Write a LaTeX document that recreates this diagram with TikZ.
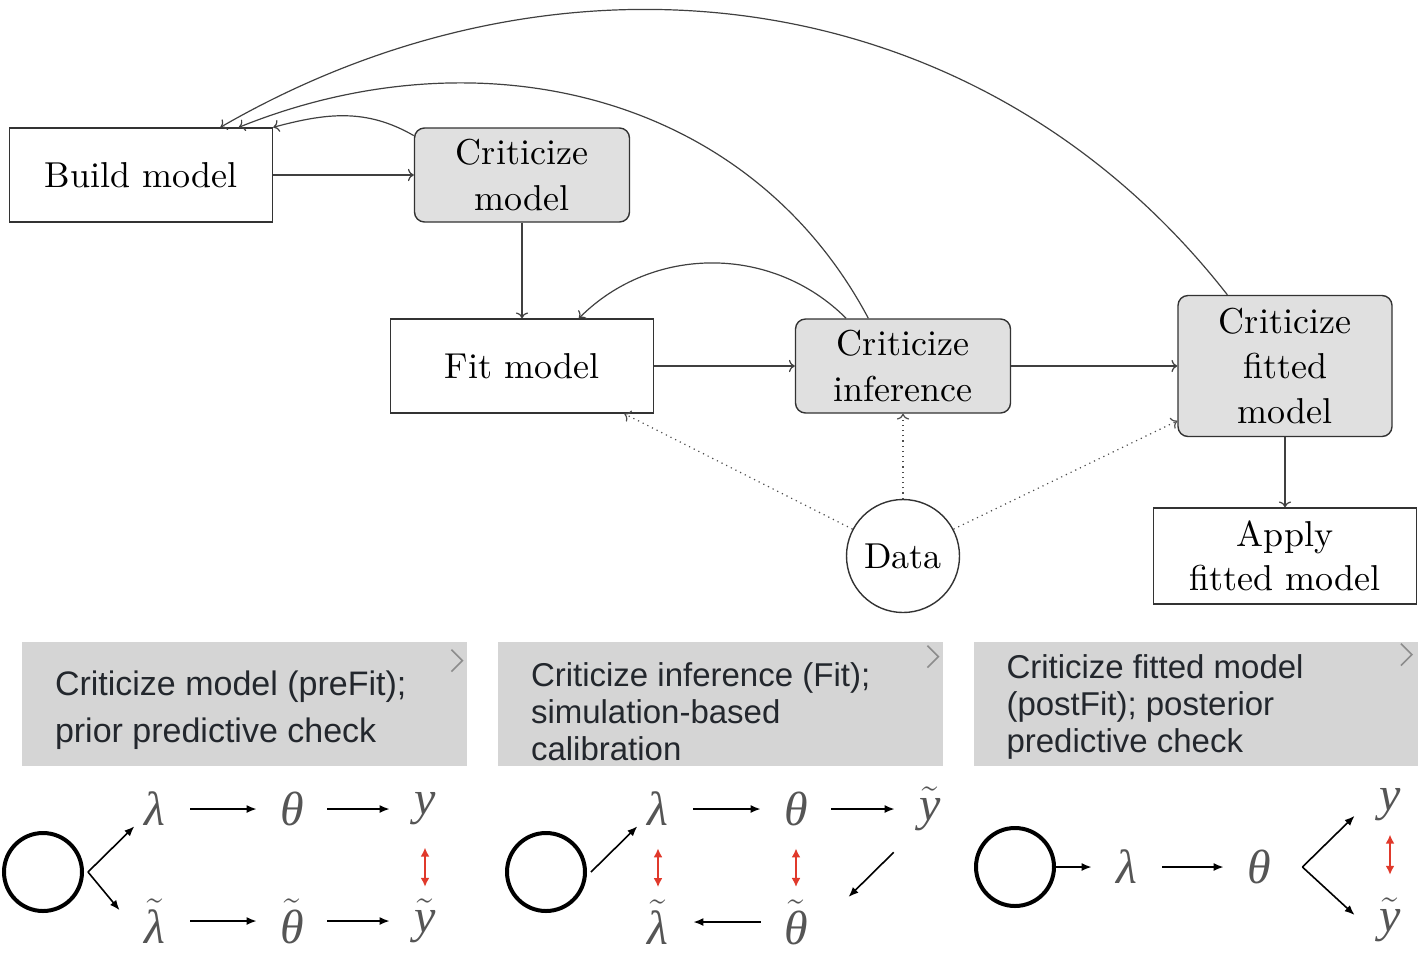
\documentclass[tikz,border=0pt]{standalone}
\usepackage{fontspec}
\newfontfamily\panelfont{Liberation Sans}
\newfontfamily\boxfont{lmroman10-regular.otf}
\newfontfamily\symfont{Liberation Serif}
\usetikzlibrary{shapes.geometric, arrows.meta, positioning, calc}
\definecolor{boxgray}{RGB}{224,224,224}
\definecolor{panelgray}{RGB}{213,213,213}
\definecolor{paneltext}{RGB}{35,39,45}
\definecolor{symgray}{RGB}{85,85,85}
\definecolor{checkred}{RGB}{224,57,43}
\newcommand{\tildesym}[1]{$\tilde{\hbox{#1}}$}

\begin{document}
\begin{tikzpicture}[
        x=0.5pt, y=0.5pt,
        box/.style={draw=black!80, line width=0.7pt, align=center, font=\boxfont\fontsize{18}{23}\selectfont, minimum width=131.5pt, minimum height=47pt},
        critbox/.style={box, rounded corners=5pt, fill=boxgray, minimum width=107.5pt},
        databox/.style={draw=black!80, line width=0.7pt, circle, font=\boxfont\fontsize{18}{23}\selectfont, minimum size=56.5pt, inner sep=0pt},
        arrow/.style={->, line width=0.6pt, draw=black!75},
        dataarrow/.style={->, dotted, line width=0.6pt, draw=black!70},
        panel/.style={fill=panelgray, minimum width=222.5pt, minimum height=62pt, inner sep=0pt},
        paneltxt/.style={align=left, text=paneltext, inner sep=0pt, anchor=west, font=\panelfont\fontsize{16.5}{18.5}\selectfont},
        chevron/.style={draw=black!45, line width=0.8pt},
        prior/.style={draw, circle, line width=2pt, minimum size=39pt},
        sym/.style={text=symgray, inner sep=0pt, minimum width=35pt, font=\symfont\itshape\fontsize{24}{28}\selectfont},
        sarrow/.style={-{Latex[length=5pt,width=4pt]}, line width=0.8pt},
        redarrow/.style={{Latex[length=4.5pt,width=4.5pt]}-{Latex[length=4.5pt,width=4.5pt]}, line width=0.9pt, draw=checkred, shorten <=11pt, shorten >=6pt}
        ]
        \useasboundingbox (0,0) rectangle (1418,-960);

        % workflow
        \node[box] (bm) at (141,-175) {Build model};
        \node[critbox] (cm) at (522,-175) {Criticize\\model};
        \node[box] (fm) at (522,-366) {Fit model};
        \node[critbox] (ci) at (903,-366) {Criticize\\inference};
        \node[critbox, minimum width=107pt, minimum height=70.5pt, font=\boxfont\fontsize{18}{22.5}\selectfont] (cf) at (1285,-366) {Criticize\\fitted\\model};
        \node[box, minimum height=48pt, font=\boxfont\fontsize{18}{22}\selectfont] (am) at (1285,-556) {Apply\\fitted model};
        \node[databox] (data) at (903,-556) {Data};

        \draw[arrow] (bm) -- (cm);
        \draw[arrow] (cm) -- (fm);
        \draw[arrow] (fm) -- (ci);
        \draw[arrow] (ci) -- (cf);
        \draw[arrow] (cf) -- (am);
        \draw[arrow] (cm.160) to[out=150, in=15] (bm.north east);
        \draw[arrow] (ci.126) to[out=118, in=22] (bm.26);
        \draw[arrow] (cf.129) to[out=128, in=30] (bm.31);
        \draw[arrow] (ci.140) to[out=135, in=45] (fm.40);
        \draw[dataarrow] (data.152) -- (fm.-25.6);
        \draw[dataarrow] (data) -- (ci);
        \draw[dataarrow] (data.28) -- (cf.207);

        % panels
        \node[panel] (p1) at (244.5,-704) {};
        \node[panel] (p2) at (720.5,-704) {};
        \node[panel] (p3) at (1196,-704) {};
        \node[paneltxt, font=\panelfont\fontsize{17}{23.5}\selectfont] (txt1) at ($(p1.west)+(33,-6)$) {Criticize model (preFit);\\prior predictive check};
        \node[paneltxt] (txt2) at ($(p2.west)+(33,-7.5)$) {Criticize inference (Fit);\\simulation-based\\calibration};
        \node[paneltxt] (txt3) at ($(p3.west)+(33,-2.5)$) {Criticize fitted model\\(postFit); posterior\\predictive check};
        \draw[chevron] ($(p1.north east)+(-16,-8)$) -- ++(11,-11) -- ++(-11,-11);
        \draw[chevron] ($(p2.north east)+(-16,-4)$) -- ++(11,-11) -- ++(-11,-11);
        \draw[chevron] ($(p3.north east)+(-18,-2)$) -- ++(11,-11) -- ++(-11,-11);

        % prior predictive check
        \node[prior] (c1) at (43,-872) {};
        \coordinate (s1) at ($(c1.east)+(4,0)$);
        \node[sym] (l1) at (155,-809) {λ};
        \node[sym] (t1) at (292,-809) {θ};
        \node[sym] (y1) at (425,-809) {y};
        \node[sym] (lb1) at (155,-921) {\tildesym{λ}};
        \node[sym] (tb1) at (292,-921) {\tildesym{θ}};
        \node[sym] (yb1) at (425,-921) {\tildesym{y}};
        \draw[sarrow] (s1) -- (l1.220);
        \draw[sarrow] (s1) -- (lb1.163);
        \draw[sarrow] (l1) -- (t1);
        \draw[sarrow] (t1) -- (y1);
        \draw[sarrow] (lb1) -- (tb1);
        \draw[sarrow] (tb1) -- (yb1);
        \draw[redarrow] (y1) -- (yb1);

        % simulation-based calibration
        \node[prior] (c2) at (546,-872) {};
        \coordinate (s2) at ($(c2.east)+(4,0)$);
        \node[sym] (l2) at (658,-809) {λ};
        \node[sym] (t2) at (796,-809) {θ};
        \node[sym] (y2) at (930,-809) {\tildesym{y}};
        \node[sym] (lb2) at (658,-922) {\tildesym{λ}};
        \node[sym] (tb2) at (796,-922) {\tildesym{θ}};
        \draw[sarrow] (s2) -- (l2.220);
        \draw[sarrow] (l2) -- (t2);
        \draw[sarrow] (t2) -- (y2);
        \draw[sarrow, shorten <=15pt, shorten >=12pt] (y2.236) -- (tb2.13);
        \draw[sarrow] (tb2) -- (lb2);
        \draw[redarrow] (l2) -- (lb2);
        \draw[redarrow] (t2) -- (tb2);

        % posterior predictive check
        \node[prior] (c3) at (1015,-867) {};
        \node[sym] (l3) at (1127,-867) {λ};
        \node[sym] (t3) at (1259,-867) {θ};
        \coordinate (s3) at ($(t3.east)+(8,0)$);
        \node[sym] (y3) at (1390,-805) {y};
        \node[sym] (yb3) at (1390,-920) {\tildesym{y}};
        \draw[sarrow] (c3) -- (l3);
        \draw[sarrow] (l3) -- (t3);
        \draw[sarrow] (s3) -- (y3.197);
        \draw[sarrow] (s3) -- (yb3.172);
        \draw[redarrow, shorten <=6.5pt, shorten >=11.5pt] (y3) -- (yb3);
    \end{tikzpicture}
\end{document}
